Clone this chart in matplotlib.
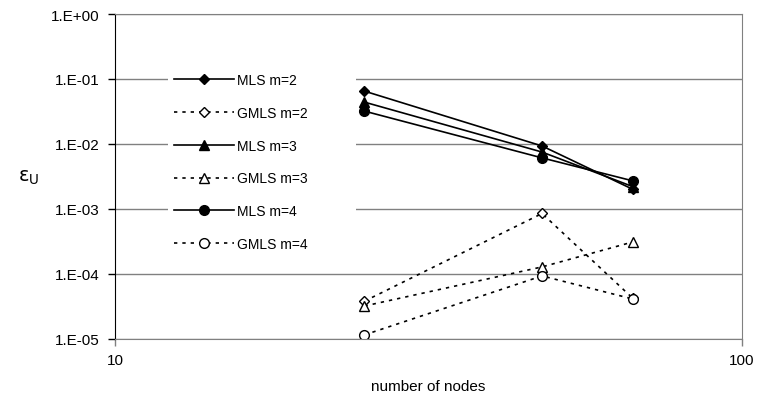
import numpy as np
import matplotlib.pyplot as plt
from matplotlib.ticker import FixedLocator, NullLocator, FuncFormatter

plt.rcParams['font.family'] = ['Liberation Sans', 'DejaVu Sans']

# data
nodes = [25, 48, 67]
mls_m2 = [0.065, 0.0093, 0.0020]
gmls_m2 = [3.8e-5, 8.5e-4, 4.2e-5]
mls_m3 = [0.044, 0.0075, 0.0022]
gmls_m3 = [3.2e-5, 1.28e-4, 3.1e-4]
mls_m4 = [0.032, 0.0061, 0.0027]
gmls_m4 = [1.15e-5, 9.3e-5, 4.1e-5]

fig = plt.figure(figsize=(7.57, 4.06), dpi=100)
ax = fig.add_axes([0.152, 0.163, 0.828, 0.8])

dot = (0, (2, 3))
ax.plot(nodes, mls_m2, color='k', lw=1.2, marker='D', ms=5, label='MLS m=2')
ax.plot(nodes, gmls_m2, color='k', lw=1.2, ls=dot, marker='D', ms=5,
        mfc='white', label='GMLS m=2')
ax.plot(nodes, mls_m3, color='k', lw=1.2, marker='^', ms=7, label='MLS m=3')
ax.plot(nodes, gmls_m3, color='k', lw=1.2, ls=dot, marker='^', ms=7,
        mfc='white', label='GMLS m=3')
ax.plot(nodes, mls_m4, color='k', lw=1.2, marker='o', ms=7, label='MLS m=4')
ax.plot(nodes, gmls_m4, color='k', lw=1.2, ls=dot, marker='o', ms=7,
        mfc='white', label='GMLS m=4')

ax.set_xscale('log')
ax.set_yscale('log')
ax.set_xlim(10, 100)
ax.set_ylim(1e-5, 1)

ax.xaxis.set_major_locator(FixedLocator([10, 100]))
ax.xaxis.set_minor_locator(NullLocator())
ax.xaxis.set_major_formatter(FuncFormatter(lambda v, p: '%d' % round(v)))
ax.yaxis.set_major_locator(FixedLocator([1e-5, 1e-4, 1e-3, 1e-2, 1e-1, 1]))
ax.yaxis.set_minor_locator(NullLocator())
ax.yaxis.set_major_formatter(FuncFormatter(
    lambda v, p: '1.E%+03d' % round(np.log10(v))))

ax.grid(axis='y', color='#808080', lw=1)
for s in ['top', 'right', 'bottom']:
    ax.spines[s].set_color('#808080')
ax.spines['left'].set_color('k')
ax.tick_params(axis='y', direction='out', length=5, width=1, labelsize=11,
               pad=6)
ax.tick_params(axis='x', direction='out', length=5, width=1,
               color='#808080', labelsize=11, pad=5)

ax.set_xlabel('number of nodes', fontsize=11, labelpad=9)
ax.set_ylabel(r'$\mathrm{\varepsilon}_\mathrm{U}$', fontsize=14, rotation=0,
              labelpad=16, va='center')

# legend box is wider than its text in the reference, so stretch it
leg = ax.legend(loc='upper left', bbox_to_anchor=(0.085, 0.0, 0.30, 0.835),
                mode='expand', frameon=True, fontsize=10, handlelength=4.3,
                handletextpad=0.25, labelspacing=1.35, borderaxespad=0,
                borderpad=0.4)
leg.get_frame().set_edgecolor('none')
leg.get_frame().set_facecolor('white')
leg.get_frame().set_alpha(1)

fig.savefig('out.png', dpi=100)
